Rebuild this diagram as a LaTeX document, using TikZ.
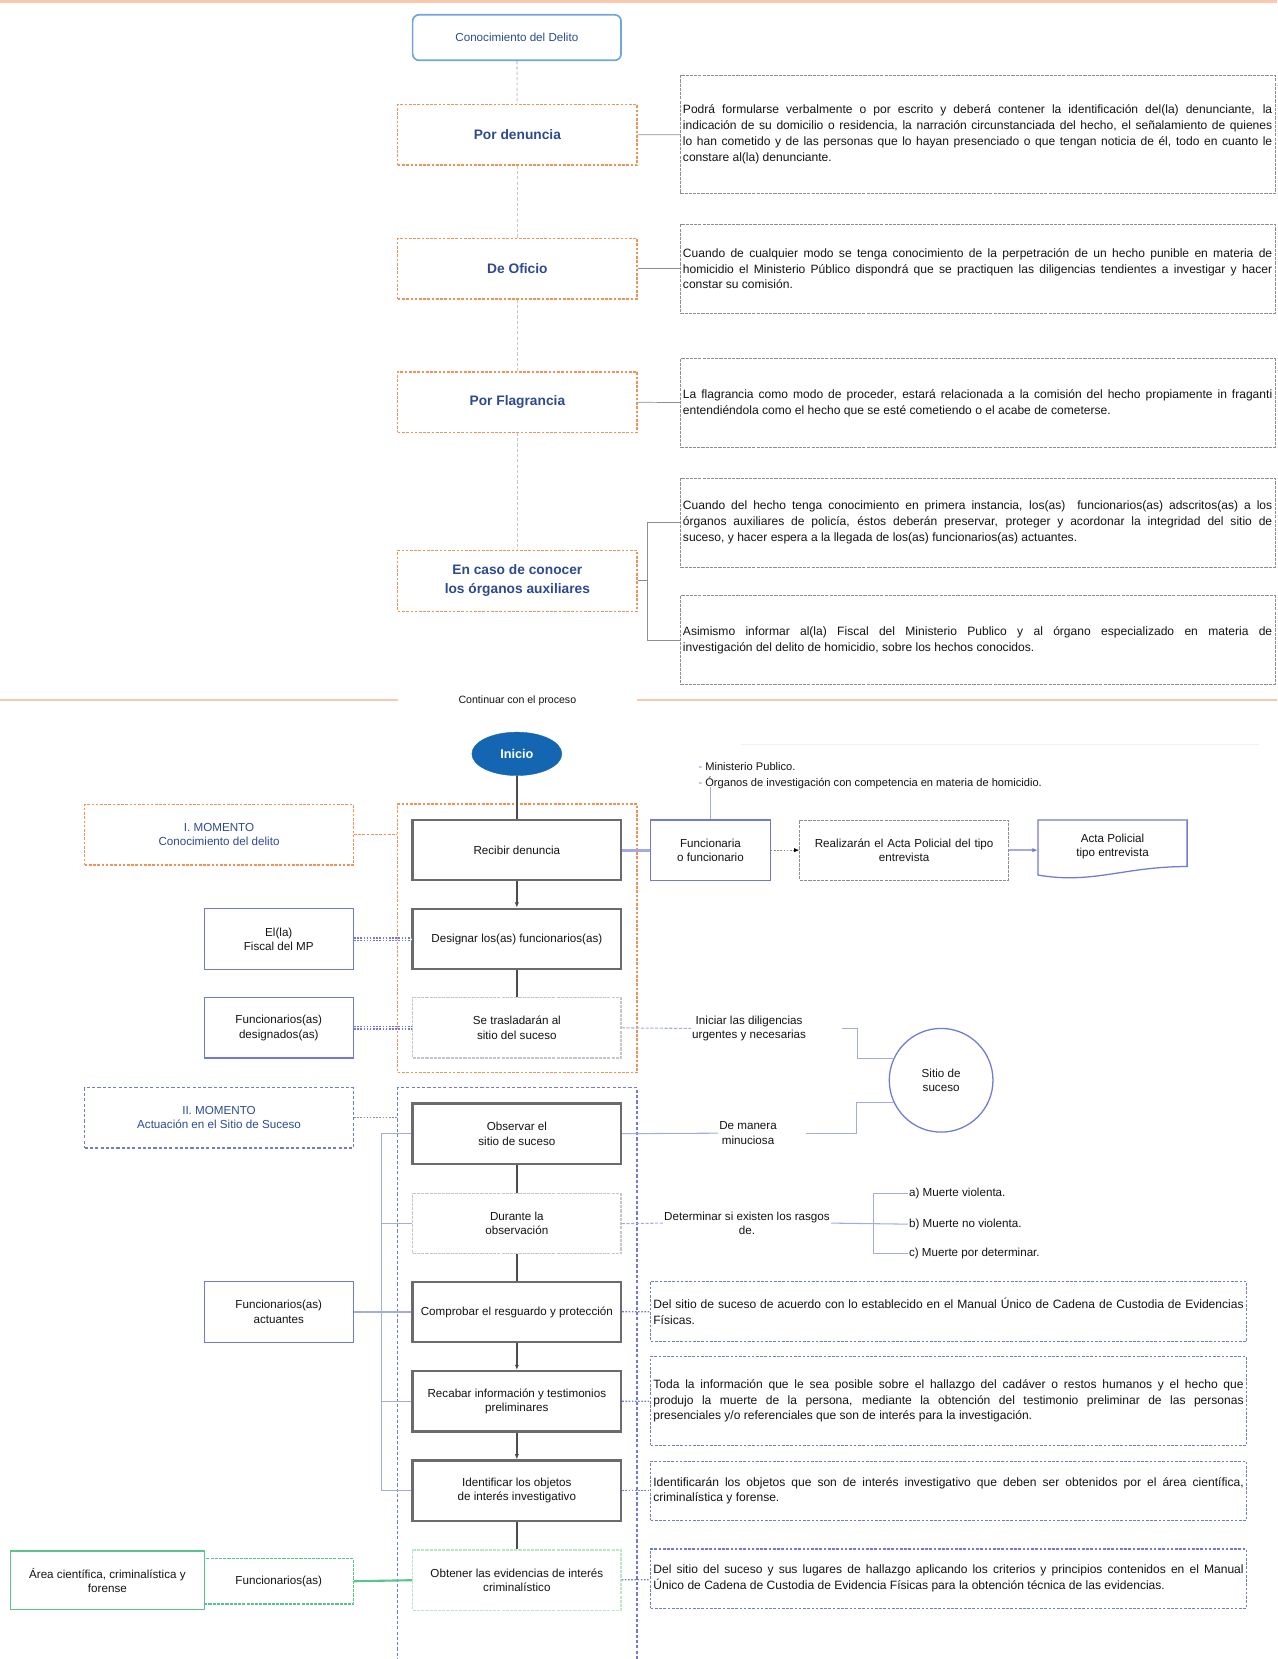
\documentclass[tikz,border=0pt]{standalone}
\usepackage{fontspec}
\setmainfont{Liberation Sans}
\usepackage{tikz}
\usetikzlibrary{arrows.meta,shapes.geometric}

\definecolor{naranja}{HTML}{F0935A}
\definecolor{naranjaclaro}{HTML}{F8C9AC}
\definecolor{azultexto}{HTML}{2E4A8E}
\definecolor{azulborde}{HTML}{6F7BD6}
\definecolor{azulclaro}{HTML}{A3AAE6}
\definecolor{azulinicio}{HTML}{1466B3}
\definecolor{celeste}{HTML}{6FA6DC}
\definecolor{gris}{HTML}{8E8E8E}
\definecolor{grisclaro}{HTML}{C6C6C6}
\definecolor{verde}{HTML}{5BC48C}
\definecolor{verdeclaro}{HTML}{BDE5C8}

\tikzset{
  every node/.append style={font=\fontsize{11}{13.5}\selectfont, align=center, inner sep=2pt, text=black!92},
  modo/.style={draw=naranja, dash pattern=on 2.5pt off 1.5pt, line width=1.2pt, minimum width=226pt, minimum height=57pt, text=azultexto, font=\fontsize{13}{18}\selectfont\bfseries},
  nota/.style={draw=gris, dash pattern=on 3pt off 1pt, line width=0.8pt, minimum width=562pt, minimum height=84pt, text width=557pt, inner xsep=2.5pt, align=justify, font=\fontsize{11.4}{15}\selectfont},
  detalle/.style={nota, draw=azulborde, dash pattern=on 2.5pt off 1.5pt, line width=1pt, minimum width=563pt, text width=558pt},
  paso/.style={draw=black!58, line width=2.2pt, minimum width=197pt, minimum height=57pt, fill=white},
  pasoclaro/.style={paso, draw=grisclaro, line width=1.2pt, dash pattern=on 3pt off 1pt},
  actor/.style={draw=azulborde, line width=1.2pt, minimum width=141pt, minimum height=57pt},
  momento/.style={minimum width=254pt, minimum height=57pt, line width=1.2pt, text=azultexto},
  texto/.style={draw=none, inner sep=1pt},
  guia/.style={grisclaro, line width=1pt, dash pattern=on 3pt off 2pt},
  enlace/.style={gris, line width=0.7pt},
  flujo/.style={black!70, line width=1.4pt},
  ramal/.style={azulclaro, line width=1pt},
  punteado/.style={azulborde, line width=1.2pt, dash pattern=on 1.5pt off 1.5pt}
}

\begin{document}
\begin{tikzpicture}[x=1pt, y=-1pt]
  \useasboundingbox (0,0) rectangle (1207,1568);
  \draw[naranjaclaro, line width=3pt] (0,1.5) -- (1207,1.5);

  \node[draw=celeste, line width=1.6pt, rounded corners=6pt, minimum width=197pt, minimum height=43pt, text=azultexto] (conocimiento) at (488.5,35.5) {Conocimiento del Delito};
  \node[modo] (denuncia) at (489,127.5) {Por denuncia};
  \node[modo] (oficio) at (489,254) {De Oficio};
  \node[modo] (flagrancia) at (489,380) {Por Flagrancia};
  \node[modo, minimum height=58pt] (auxiliares) at (489,549) {En caso de conocer\\los órganos auxiliares};

  \node[nota, minimum height=112pt] (nota1) at (924,127) {Podrá formularse verbalmente o por escrito y deberá contener la identificación del(la) denunciante, la\linebreak indicación de su domicilio o residencia, la narración circunstanciada del hecho, el señalamiento de quienes\linebreak lo han cometido y de las personas que lo hayan presenciado o que tengan noticia de él, todo en cuanto le\linebreak constare al(la) denunciante.};
  \node[nota] (nota2) at (924,254) {Cuando de cualquier modo se tenga conocimiento de la perpetración de un hecho punible en materia de\linebreak homicidio el Ministerio Público dispondrá que se practiquen las diligencias tendientes a investigar y hacer\linebreak constar su comisión.};
  \node[nota] (nota3) at (924,381) {La flagrancia como modo de proceder, estará relacionada a la comisión del hecho propiamente in fraganti\linebreak entendiéndola como el hecho que se esté cometiendo o el acabe de cometerse.};
  \node[nota] (nota4) at (924,494) {Cuando del hecho tenga conocimiento en primera instancia, los(as) \ funcionarios(as) adscritos(as) a los\linebreak órganos auxiliares de policía, éstos deberán preservar, proteger y acordonar la integridad del sitio de\linebreak suceso, y hacer espera a la llegada de los(as) funcionarios(as) actuantes.};
  \node[nota] (nota5) at (924,605) {Asimismo informar al(la) Fiscal del Ministerio Publico y al órgano especializado en materia de\linebreak investigación del delito de homicidio, sobre los hechos conocidos.};

  \draw[guia]
    (conocimiento) edge (denuncia)
    (denuncia) edge (oficio)
    (oficio) edge (flagrancia)
    (flagrancia) edge (auxiliares);
  \draw[enlace]
    (denuncia) edge (nota1)
    (oficio) edge (nota2)
    (flagrancia) edge (nota3);
  \draw[enlace] (nota4.west) -- ++(-31,0) |- (nota5.west);
  \draw[enlace] (auxiliares.east) -- ++(10,0);

  \node[texto, font=\fontsize{10}{12}\selectfont] (continuar) at (489,662) {Continuar con el proceso};
  \draw[naranjaclaro, line width=2pt] (0,662) -- (376,662) (602,662) -- (1207,662);

  \draw[black!6, line width=1pt] (700,704) -- (1190,704);

  \node[momento, draw=naranja, dash pattern=on 2.5pt off 1.5pt, minimum height=254pt, minimum width=226pt] (etapauno) at (489,887) {};
  \node[ellipse, fill=azulinicio, draw=azulinicio, minimum width=85pt, minimum height=41pt, text=white, font=\fontsize{12}{14}\selectfont\bfseries] (inicio) at (488.5,712.5) {Inicio};
  \node[paso] (recibir) at (488.5,803.5) {Recibir denuncia};
  \node[paso] (designar) at (488.5,887.5) {Designar los(as) funcionarios(as)};
  \node[pasoclaro] (trasladar) at (488.5,971.5) {Se trasladarán al\\sitio del suceso};

  \node[momento, draw=naranja, dash pattern=on 2.5pt off 1.5pt] (momento1) at (207,789) {I. MOMENTO\\Conocimiento del delito};
  \node[actor] (fiscal) at (263.5,887.5) {El(la)\\Fiscal del MP};
  \node[actor] (designados) at (263.5,971.5) {Funcionarios(as)\\designados(as)};
  \node[actor, minimum width=113pt] (funcionaria) at (671.5,803.5) {Funcionaria\\o funcionario};
  \node[nota, minimum width=197pt, minimum height=57pt, text width=192pt, align=center, font=\fontsize{11}{13.5}\selectfont] (realizar) at (854.5,803.5) {Realizarán el Acta Policial del tipo\\entrevista};
  \draw[azulborde, line width=1.2pt] (981,775) -- (1122,775) -- (1122,819) .. controls (1062,819) and (1032,836) .. (981,827) -- cycle;
  \node[texto, minimum width=141pt, minimum height=50pt] (acta) at (1051.5,800) {Acta Policial\\tipo entrevista};
  \node[texto, anchor=west, align=left, font=\fontsize{10.5}{15}\selectfont] (lista) at (659,733) {{\color{azulborde}-} Ministerio Publico.\\{\color{azulborde}-} Órganos de investigación con competencia en materia de homicidio.};

  \draw[flujo] (inicio) -- (recibir);
  \draw[flujo, -{Latex[length=5pt,width=4pt]}] (recibir) -- (designar);
  \draw[flujo] (designar) -- (trasladar);
  \draw[naranja, line width=1.2pt, dash pattern=on 2.5pt off 1.5pt] (momento1.east) -- (momento1.east -| etapauno.west);
  \draw[punteado, double=white, double distance=0.8pt] (fiscal.east) -- (designar.west);
  \draw[punteado, double=white, double distance=0.8pt] (designados.east) -- (trasladar.west);
  \draw[azulclaro, line width=3pt] (recibir.east) -- (funcionaria.west);
  \draw[gris, line width=1pt, dash pattern=on 1.5pt off 1.5pt, -{Latex[length=5pt,width=4pt,black]}] (funcionaria) -- (realizar);
  \draw[azulclaro, line width=1.4pt, -{Latex[length=5pt,width=4pt,azulborde]}] (realizar.east) -- (realizar.east -| acta.west);
  \draw[ramal] (funcionaria.north) -- ++(0,-31);

  \node[texto] (iniciar) at (708,972) {Iniciar las diligencias\\urgentes y necesarias};
  \node[circle, draw=azulborde, line width=1.2pt, minimum size=98pt] (sitio) at (889.5,1021) {Sitio de\\suceso};
  \node[texto] (minuciosa) at (707,1071) {De manera\\minuciosa};
  \draw[ramal, dash pattern=on 3pt off 1.5pt] (trasladar.east) -- (iniciar.west);
  \draw[ramal] (iniciar.east) ++(33,0) -- ++(14,0) |- (sitio.155);
  \draw[ramal] (minuciosa.east) ++(26,0) -- ++(48,0) |- (sitio.205);

  \draw[azulborde, line width=1.2pt, dash pattern=on 3pt off 2pt] (376,1570) |- (602,1028) -- (602,1570);
  \coordinate (entrada) at (376,1056.5);
  \node[momento, draw=azulborde, dash pattern=on 3pt off 2pt] (momento2) at (207,1056.5) {II. MOMENTO\\Actuación en el Sitio de Suceso};
  \draw[gris, line width=1.2pt, dash pattern=on 1.5pt off 1.5pt] (momento2.east) -- (entrada);

  \node[paso] (observar) at (488.5,1071.5) {Observar el\\sitio de suceso};
  \node[pasoclaro] (durante) at (488.5,1156.5) {Durante la\\observación};
  \node[paso] (comprobar) at (488.5,1240) {Comprobar el resguardo y protección};
  \node[paso] (recabar) at (488.5,1324.5) {Recabar información y testimonios\\preliminares};
  \node[paso] (identificar) at (488.5,1409) {Identificar los objetos\\de interés investigativo};
  \node[pasoclaro, draw=verdeclaro] (obtener) at (488.5,1493.5) {Obtener las evidencias de interés\\criminalístico};

  \node[actor] (actuantes) at (263.5,1240) {Funcionarios(as)\\actuantes};
  \node[actor, draw=verde, minimum width=183pt, minimum height=55pt] (area) at (101.5,1493.5) {Área científica, criminalística y\\forense};
  \node[actor, draw=verde, dash pattern=on 3pt off 1pt, minimum height=43pt] (funcverde) at (263.5,1494.5) {Funcionarios(as)};

  \node[texto] (determinar) at (706,1156) {Determinar si existen los rasgos\\de.};
  \node[texto, anchor=west] (rasgoa) at (858,1128) {a) Muerte violenta.};
  \node[texto, anchor=west] (rasgob) at (858,1157) {b) Muerte no violenta.};
  \node[texto, anchor=west] (rasgoc) at (858,1185) {c) Muerte por determinar.};

  \node[detalle, minimum height=57pt] (detalle1) at (896.5,1239.5) {Del sitio de suceso de acuerdo con lo establecido en el Manual Único de Cadena de Custodia de Evidencias\linebreak Físicas.};
  \node[detalle] (detalle2) at (896.5,1324) {Toda la información que le sea posible sobre el hallazgo del cadáver o restos humanos y el hecho que\linebreak produjo la muerte de la persona, mediante la obtención del testimonio preliminar de las personas\linebreak presenciales y/o referenciales que son de interés para la investigación.};
  \node[detalle, minimum height=56pt] (detalle3) at (896.5,1409) {Identificarán los objetos que son de interés investigativo que deben ser obtenidos por el área científica,\linebreak criminalística y forense.};
  \node[detalle, minimum height=56pt] (detalle4) at (896.5,1492) {Del sitio del suceso y sus lugares de hallazgo aplicando los criterios y principios contenidos en el Manual\linebreak Único de Cadena de Custodia de Evidencia Físicas para la obtención técnica de las evidencias.};

  \draw[flujo] (observar) -- (durante);
  \draw[flujo] (durante) -- (comprobar);
  \draw[flujo, -{Latex[length=5pt,width=4pt]}] (comprobar) -- (recabar);
  \draw[flujo, -{Latex[length=5pt,width=4pt]}] (recabar) -- (identificar);
  \draw[flujo] (identificar) -- (obtener);

  \draw[ramal] (observar.west) -- ++(-28,0) |- (identificar.west);
  \draw[ramal] (durante.west) -- ++(-28,0);
  \draw[ramal] (recabar.west) -- ++(-28,0);
  \draw[ramal] (actuantes.east) -- (comprobar.west);
  \draw[ramal] (observar.east) -- (minuciosa.west);
  \draw[ramal, dash pattern=on 3pt off 1.5pt] (durante.east) -- (determinar.west);
  \draw[ramal] (determinar.east) -- (rasgob.west);
  \draw[ramal] (rasgoa.west) -- ++(-32,0) |- (rasgoc.west);

  \draw[punteado]
    (comprobar) edge (detalle1)
    (recabar) edge (detalle2)
    (identificar) edge (detalle3)
    (obtener) edge (detalle4);
  \draw[verde, line width=2pt] (funcverde.east) -- (obtener.west);
\end{tikzpicture}
\end{document}
